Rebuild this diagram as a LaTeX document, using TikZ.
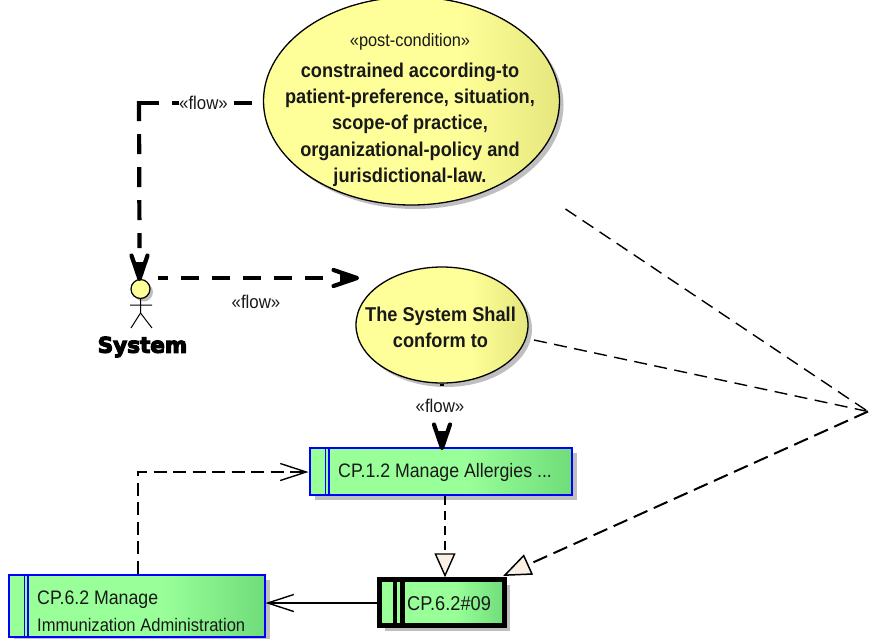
\documentclass[tikz,border=0pt]{standalone}
\usepackage{fontspec}
\setmainfont{Liberation Sans}[FakeStretch=0.91]
\newfontfamily\sysfont[FakeBold=5.5]{DejaVu Sans Bold}
\usetikzlibrary{arrows.meta,shapes.geometric,shadows,calc}
\definecolor{gA}{HTML}{99FF99}
\definecolor{gB}{HTML}{6FDD7A}
\definecolor{yA}{HTML}{FFFF99}
\definecolor{yB}{HTML}{E6E67E}
\definecolor{tipfill}{HTML}{FAF0E6}
\pgfdeclarehorizontalshading{boxgrad}{100bp}{color(0bp)=(gA); color(55bp)=(gA); color(75bp)=(gB); color(100bp)=(gB)}
\pgfdeclarehorizontalshading{ellgrad}{100bp}{color(0bp)=(yA); color(58bp)=(yA); color(75bp)=(yB); color(100bp)=(yB)}
\newcommand{\flowtip}[2]{%
  \begin{scope}[shift={#1},rotate=#2]
    \fill (-18,-5) -- (-1,0) -- (-18,5) -- cycle;
    \draw[line width=4.2pt,line cap=round,line join=round] (-24.5,-8) -- (-1,0) -- (-24.5,8);
  \end{scope}}
\tikzset{
  x=1pt,y=-1pt,
  softshadow/.style={drop shadow={shadow xshift=#1,shadow yshift=-#1,opacity=1,fill=black!25}},
  actbox/.style={rectangle,draw=blue,line width=2pt,shading=boxgrad,inner sep=0pt,softshadow=5pt},
  reqbox/.style={rectangle,draw=black,line width=4.5pt,shading=boxgrad,inner sep=0pt,softshadow=5pt},
  usecase/.style={ellipse,draw=black,line width=1.3pt,shading=ellgrad,inner sep=0pt,softshadow=4pt},
  txt/.style 2 args={font=\fontsize{#1}{#2}\selectfont,inner sep=0pt,align=center,text=black!90!white},
  btxt/.style 2 args={font=\fontsize{#1}{#2}\selectfont\bfseries,inner sep=0pt,align=center,text=black!90!white},
  flowlabel/.style={txt={18.5}{20},fill=white,minimum width=48pt,minimum height=22pt},
  flowline/.style={line width=4.2pt,dash pattern=on 18pt off 13pt},
  thindash/.style={line width=1.4pt,dash pattern=on 13pt off 7.5pt},
  hollow/.style={-{Triangle[color=black,fill=tipfill,length=24pt,width=21pt,line width=1.4pt]}},
  hollowbig/.style={-{Triangle[color=black,fill=tipfill,length=28pt,width=22pt,line width=1.5pt]}},
  openv/.style={-{Straight Barb[length=26pt,width=17pt,line width=1.4pt]}},
}
\begin{document}
\begin{tikzpicture}
\useasboundingbox[fill=white] (0,0) rectangle (869,638);
% use cases
\node[usecase,minimum width=296pt,minimum height=208pt] (post) at (411.5,101) {};
\node[btxt={20}{26.2}] (posttxt) at (410,110) {{\mdseries\fontsize{18}{20}\selectfont «post-condition»}\\[4.5pt]
  constrained according-to\\
  patient-preference, situation,\\
  scope-of practice,\\
  organizational-policy and\\
  jurisdictional-law.};
\node[usecase,minimum width=172pt,minimum height=116pt] (conf) at (442,325) {};
\node[btxt={20}{26.2}] (conftxt) at (440.5,327) {The System Shall\\ conform to};
% activity boxes
\node[actbox,minimum width=262pt,minimum height=47pt] (cp12) at (440.5,471) {};
\node[txt={19.5}{20},anchor=west] (cp12txt) at (338,472.5) {CP.1.2 Manage Allergies ...};
\node[actbox,minimum width=256pt,minimum height=62pt] (cp62) at (136.5,605.5) {};
\node[txt={18.2}{27},anchor=west,align=left] (cp62txt) at (37,611.5) {{\fontsize{19.5}{20}\selectfont CP.6.2 Manage}\\ Immunization Administration};
\node[reqbox,minimum width=125pt,minimum height=46pt] (req) at (442,602.5) {};
\node[txt={20}{20},anchor=west] (reqtxt) at (407,603.5) {CP.6.2\#09};
% dividers
\draw[blue,line width=1.5pt] ($(cp12.north west)+(17,0)$) -- ($(cp12.south west)+(17,0)$)
  ($(cp12.north west)+(20.5,0)$) -- ($(cp12.south west)+(20.5,0)$)
  ($(cp62.north west)+(17,0)$) -- ($(cp62.south west)+(17,0)$)
  ($(cp62.north west)+(20.5,0)$) -- ($(cp62.south west)+(20.5,0)$);
\draw[black,line width=4.5pt] ($(req.north west)+(17.5,0)$) -- ($(req.south west)+(17.5,0)$)
  ($(req.north west)+(25,0)$) -- ($(req.south west)+(25,0)$);
% actor
\node[circle,draw=black,line width=1.2pt,fill=yA,minimum size=19pt,inner sep=0pt,softshadow=3pt] (head) at (140.5,289) {};
\coordinate (hip) at (140.5,313);
\coordinate (armL) at (130,305);
\coordinate (armR) at (152,305);
\coordinate (footL) at (131,328);
\coordinate (footR) at (152,328);
\draw[line width=1pt] (head.south) -- (hip) (armL) -- (armR) (footL) -- (hip) -- (footR);
\node[inner sep=0pt,font=\fontsize{21.5}{22}\sysfont] (sys) at (142.5,347) {System};
% flows
\coordinate (c1) at (139,101);
\coordinate (c1h) at (137,103);
\coordinate (s1) at (252,103);
\coordinate (t1) at (139.5,280);
\draw[flowline] (s1) -- (c1h);
\draw[line width=4.2pt,dash pattern=on 20pt off 13pt] (c1) -- ($(t1)+(0,-32)$);
\flowtip{(t1)}{-90}
\node[flowlabel] (f1) at (203.5,103) {«flow»};
\coordinate (a2) at (157.5,278);
\coordinate (b2) at (358,278);
\draw[flowline,dash phase=8pt] (a2) -- ($(b2)+(-33,0)$);
\flowtip{(b2)}{0}
\node[txt={18.5}{20}] (f2) at (256,302) {«flow»};
\coordinate (t3) at (442,449);
\draw[flowline,dash phase=16pt] (conf.south) -- ($(t3)+(0,-33)$);
\flowtip{(t3)}{-90}
\node[flowlabel] (f3) at (440,406) {«flow»};
% thin connectors
\coordinate (trunk) at (138,472);
\coordinate (tipA) at (503,576);
\draw[line width=1.3pt,dash pattern=on 9pt off 6pt,hollow] (cp12.south -| 445,0) -- (req.north -| 445,0);
\draw[line width=1.4pt,dash pattern=on 13pt off 6.5pt,openv] (cp62.north -| trunk) -- (trunk) -- (cp12.west |- trunk);
\draw[line width=1.3pt,openv] (req.west |- 0,603) -- (cp62.east |- 0,603);
\coordinate (m) at (868,411.5);
\coordinate (n1) at (565.5,209);
\coordinate (n2) at (534,340);
\draw[thindash] (n1) -- (m);
\draw[thindash] (n2) -- (m);
\draw[line width=2pt,dash pattern=on 15pt off 7pt,hollowbig] (m) -- (tipA);
\end{tikzpicture}
\end{document}
